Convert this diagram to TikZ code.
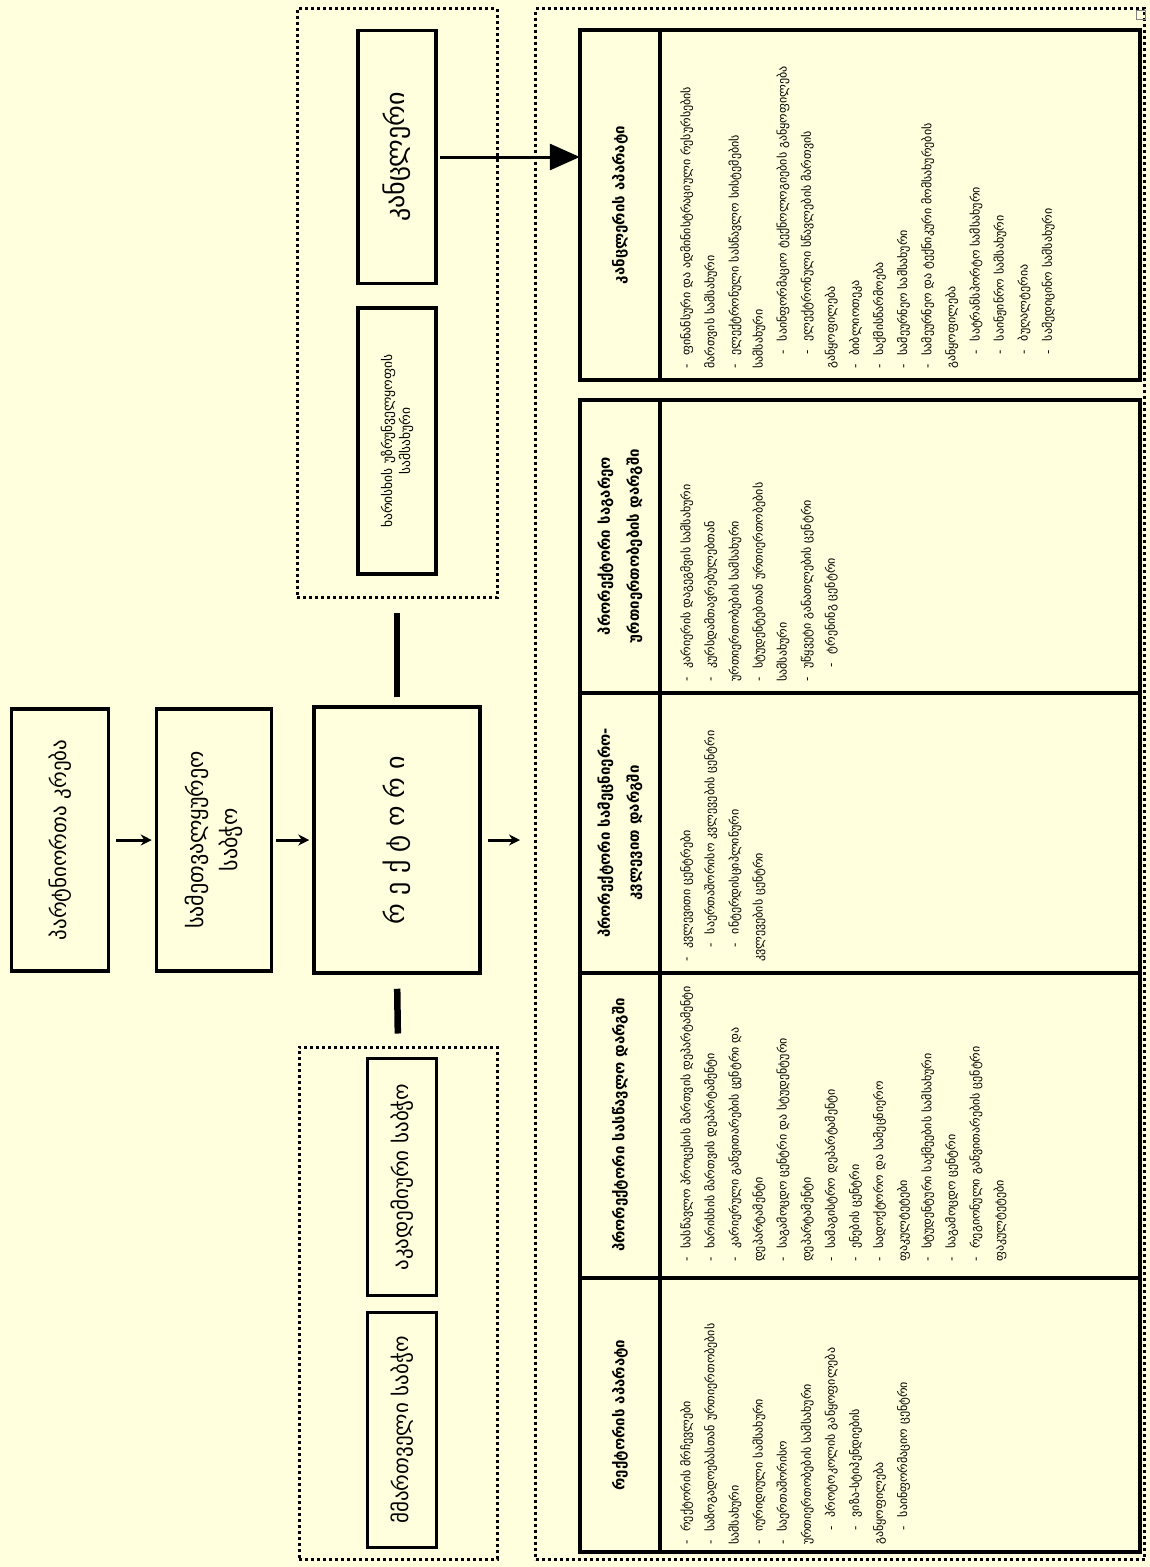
\documentclass[tikz,border=0pt]{standalone}
\usepackage{fontspec}
\setmainfont{DejaVu Sans}
\usetikzlibrary{arrows.meta}
\definecolor{bg}{RGB}{255,255,221}
\newcommand{\itm}[1]{\par\noindent\hangindent=1.1em\hangafter=1\makebox[1.1em][l]{-}#1}
\newcommand{\sitm}[1]{\par\noindent\hangindent=2.3em\hangafter=1\hspace*{1.2em}\makebox[1.1em][l]{-}#1}
\tikzset{
  bx/.style={draw, line width=3.5pt, rotate=90, align=center, inner sep=2pt},
  dotbox/.style={draw, line width=3pt, dash pattern=on 3pt off 3pt},
  grid/.style={line width=3.5pt},
  hd/.style={rotate=90, align=center, font=\fontsize{15}{29}\selectfont\bfseries, inner sep=0pt},
  body/.style={rotate=90, anchor=north west, align=left, inner sep=0pt, font=\fontsize{12}{24.1}\selectfont},
  sarr/.style={-{Stealth[length=11pt,width=11pt]}, line width=3pt},
  thick/.style={line width=6.5pt}
}
\begin{document}
\begin{tikzpicture}[x=1pt,y=-1pt]
\useasboundingbox[fill=bg] (0,0) rectangle (1150,1567);
% top chain
\node[bx, minimum width=262pt, minimum height=97pt, font=\fontsize{21}{26}\selectfont] (b1) at (60,840) {პარტნიორთა კრება};
\node[bx, minimum width=262pt, minimum height=115pt, font=\fontsize{22}{34}\selectfont] (b2) at (214,840) {სამეთვალყურეო\\საბჭო};
\node[bx, minimum width=266pt, minimum height=166pt, font=\fontsize{26}{30}\selectfont] (b3) at (397,840) {რ ე ქ ტ ო რ ი};
\draw[sarr, shorten <=6pt, shorten >=3pt] (b1.south) -- (b2.north);
\draw[sarr, shorten <=3pt, shorten >=3pt] (b2.south) -- (b3.north);
% dotted groups
\node[dotbox, minimum width=200pt, minimum height=589pt] (dR) at (397,303) {};
\node[dotbox, minimum width=198pt, minimum height=512pt] (dL) at (398,1303) {};
\node[bx, minimum width=253pt, minimum height=78pt, font=\fontsize{26}{30}\selectfont] (kanc) at (397,157) {კანცლერი};
\node[bx, minimum width=266pt, minimum height=78pt, font=\fontsize{13.5}{18}\selectfont] (qa) at (397,441) {ხარისხის უზრუნველყოფის\\სამსახური};
\node[bx, minimum width=237pt, minimum height=69pt, font=\fontsize{21}{24}\selectfont] (akad) at (402,1177) {აკადემიური საბჭო};
\node[bx, minimum width=235pt, minimum height=69pt, font=\fontsize{21}{24}\selectfont] (mmart) at (402,1430) {მმართველი საბჭო};
\draw[thick, shorten <=8pt, shorten >=14pt] (b3.east) -- (dR.south);
\draw[thick, shorten <=14pt, shorten >=12pt] (b3.west) -- (dL.north);
% big dotted frame
\node[dotbox, minimum width=609pt, minimum height=1551pt] (outer) at (840,784) {};
\draw[line width=0.6pt, draw=gray] (1136,10) rectangle (1145,19);
\draw[sarr, shorten <=6pt, shorten >=14pt] (b3.south) -- (b3.south -| outer.west);
% kanceleri table
\node[hd, minimum width=350pt, minimum height=80pt] (hK) at (620,205) {კანცლერის აპარატი};
\draw[grid] (580,30) rectangle (1140,380);
\draw[grid] (660,30) -- (660,380);
\draw[-{Triangle[length=30pt,width=26pt]}, line width=3pt, shorten <=2pt] (kanc.south) -- (kanc.south -| hK.north);
\node[body, text width=345pt] (tK) at (666,369) {%
\itm{ფინანსური და ადმინისტრაციული რესურსების\\მართვის სამსახური}
\itm{ელექტრონული სასწავლო სისტემების\\სამსახური}
\sitm{საინფორმაციო ტექნოლოგიების განყოფილება}
\sitm{ელექტრონული სწავლების მართვის\\განყოფილება}
\itm{ბიბლიოთეკა}
\itm{საქმისწარმოება}
\itm{სამეურნეო სამსახური}
\itm{სამეურნეო და ტექნიკური მომსახურების\\განყოფილება}
\sitm{სატრანსპორტო სამსახური}
\sitm{საინჟინრო სამსახური}
\sitm{ბუღალტერია}
\sitm{სამედიცინო სამსახური}};
% main table
\draw[grid] (580,400) rectangle (1140,1552);
\draw[grid] (660,400) -- (660,1552);
\draw[grid] (580,693) -- (1140,693);
\draw[grid] (580,973) -- (1140,973);
\draw[grid] (580,1278) -- (1140,1278);
\node[hd, minimum width=293pt, minimum height=80pt] (h4) at (620,546) {პრორექტორი საგარეო\\ურთიერთობების დარგში};
\node[hd, minimum width=280pt, minimum height=80pt] (h3) at (620,833) {პრორექტორი სამეცნიერო-\\კვლევით დარგში};
\node[hd, minimum width=305pt, minimum height=80pt] (h2) at (620,1125) {პრორექტორი სასწავლო დარგში};
\node[hd, minimum width=274pt, minimum height=80pt] (h1) at (620,1415) {რექტორის აპარატი};
\node[body, text width=280pt] (t4) at (666,682) {%
\itm{კარიერის დაგეგმვის სამსახური}
\itm{კურსდამთავრებულებთან\\ურთიერთობების სამსახური}
\itm{სტუდენტებთან ურთიერთობების\\სამსახური}
\itm{უწყვეტი განათლების ცენტრი}
\sitm{ტრენინგ ცენტრი}};
\node[body, text width=270pt] (t3) at (666,962) {%
\itm{კვლევითი ცენტრები}
\sitm{საერთაშორისო კვლევების ცენტრი}
\sitm{ინტერდისციპლინური\\კვლევების ცენტრი}};
\node[body, text width=290pt] (t2) at (666,1262) {%
\itm{სასწავლო პროცესის მართვის დეპარტამენტი}
\itm{ხარისხის მართვის დეპარტამენტი}
\itm{კარიერული განვითარების ცენტრი და\\დეპარტამენტი}
\itm{საგამოცდო ცენტრი და სტუდენტური\\დეპარტამენტი}
\itm{სამაგისტრო დეპარტამენტი}
\itm{ენების ცენტრი}
\itm{სადოქტორო და სამეცნიერო\\ფაკულტეტები}
\itm{სტუდენტური საქმეების სამსახური}
\itm{საგამოცდო ცენტრი}
\itm{რეგიონული განვითარების ცენტრი\\ფაკულტეტები}};
\node[body, text width=262pt] (t1) at (666,1545) {%
\itm{რექტორის მრჩევლები}
\itm{საზოგადოებასთან ურთიერთობების\\სამსახური}
\itm{იურიდიული სამსახური}
\itm{საერთაშორისო\\ურთიერთობების სამსახური}
\sitm{პროტოკოლის განყოფილება}
\sitm{ვიზა-სტიპენდიების\\განყოფილება}
\sitm{საინფორმაციო ცენტრი}};
\end{tikzpicture}
\end{document}
